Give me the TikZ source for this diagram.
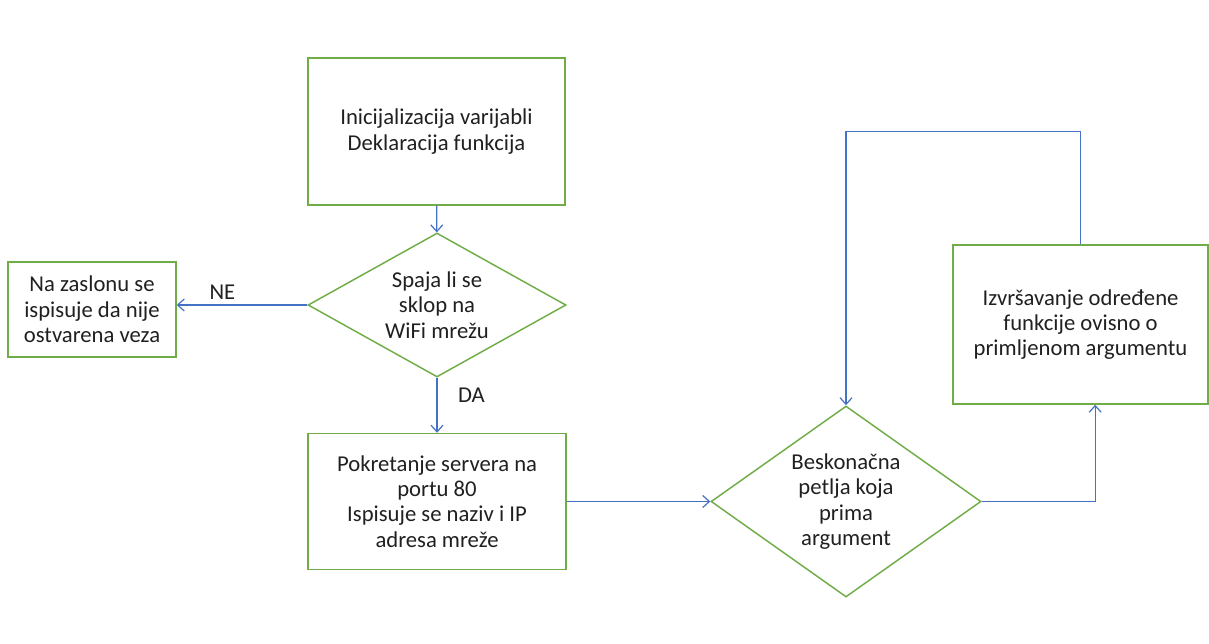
\documentclass[tikz,border=0pt]{standalone}
\usepackage{fontspec}
\setmainfont{Carlito}
\usetikzlibrary{shapes.geometric,arrows.meta}
\definecolor{okvir}{HTML}{70AD47}
\definecolor{strelica}{HTML}{4472C4}
\definecolor{tekst}{HTML}{202020}
\tikzset{
  blok/.style={draw=okvir, line width=1.1pt, rectangle, align=center, text=tekst,
    inner sep=0pt, font=\fontsize{17}{19}\selectfont},
  odluka/.style={blok, diamond},
  tok/.style={draw=strelica, line width=0.9pt, -{Straight Barb[length=5pt,width=9pt]}},
  oznaka/.style={text=tekst, font=\fontsize{17}{19}\selectfont}
}
\begin{document}
\begin{tikzpicture}[x=0.75pt, y=-0.75pt]
                \useasboundingbox (0,0) rectangle (1209,643);
                \node[blok, minimum width=192.75pt, minimum height=110.25pt] (init) at (436.5,131.5)
                    {Inicijalizacija varijabli\\Deklaracija funkcija};
                \node[odluka, aspect=1.8, minimum width=193.5pt, minimum height=108pt] (wifi) at (437,305)
                    {Spaja li se\\sklop na\\WiFi mrežu};
                \node[blok, minimum width=126pt, minimum height=71.25pt] (greska) at (92,309.5)
                    {Na zaslonu se\\ispisuje da nije\\ostvarena veza};
                \node[blok, minimum width=193.5pt, minimum height=102pt] (server) at (437,501.5)
                    {Pokretanje servera na\\portu 80\\Ispisuje se naziv i IP\\adresa mreže};
                \node[odluka, aspect=1.41, minimum width=202.5pt, minimum height=143.25pt] (petlja) at (846,501.5)
                    {Beskonačna\\petlja koja\\prima\\argument};
                \node[blok, minimum width=191.25pt, minimum height=119.25pt] (izvrsi) at (1080.5,324.5)
                    {Izvršavanje određene\\funkcije ovisno o\\primljenom argumentu};

                \draw[tok] (init) -- (wifi);
                \draw[tok] (wifi.west) -- node[oznaka, pos=0.65, above] {NE} (wifi.west -| greska.east);
                \draw[tok] (wifi) -- node[oznaka, pos=0.32, right=12pt] {DA} (server);
                \draw[tok] (server) -- (petlja);
                \draw[tok] (petlja.east) -| ([xshift=11pt]izvrsi.south);
                \draw[tok] (izvrsi.north) -- ++(0,-113) -| (petlja.north);

            \end{tikzpicture}
\end{document}
